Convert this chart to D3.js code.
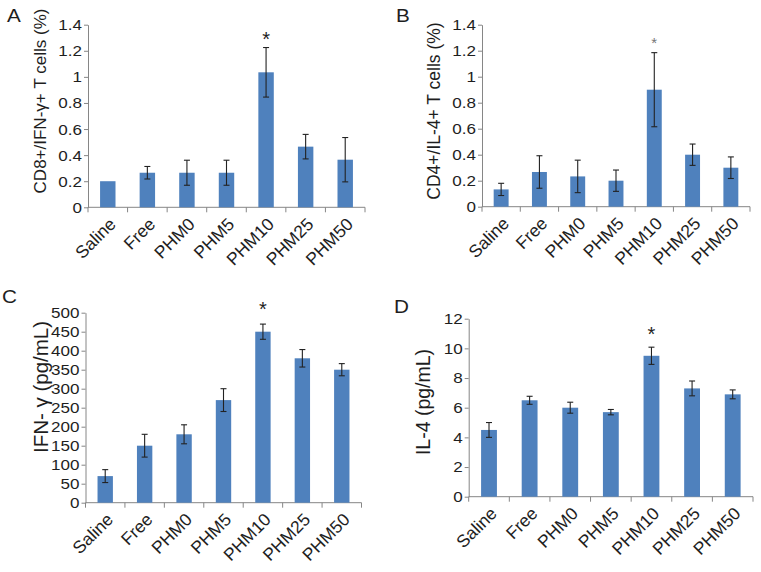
<!DOCTYPE html>
<html>
<head>
<meta charset="utf-8">
<script src="https://cdn.jsdelivr.net/npm/d3@7"></script>
<style>
body { margin: 0; background: #fff; }
svg { display: block; }
text { font-family: "Liberation Sans", Arial, sans-serif; fill: #1e1e1e; }
</style>
</head>
<body>
<svg id="svg" width="761" height="572"></svg>
<script>
var groups = ['Saline', 'Free', 'PHM0', 'PHM5', 'PHM10', 'PHM25', 'PHM50'];

// panel A: CD8+/IFN-y+ T cells (%)
var cd8Mean = [0.20, 0.265, 0.265, 0.265, 1.035, 0.465, 0.365];
var cd8Err  = [0, 0.048, 0.096, 0.096, 0.19, 0.094, 0.17];
// panel B: CD4+/IL-4+ T cells (%)
var cd4Mean = [0.133, 0.267, 0.233, 0.20, 0.90, 0.40, 0.30];
var cd4Err  = [0.047, 0.125, 0.125, 0.082, 0.285, 0.082, 0.083];
// panel C: IFN-y (pg/mL)
var ifnMean = [70, 150, 180, 270, 450, 380, 350];
var ifnErr  = [17, 30, 25, 30, 20, 23, 16];
// panel D: IL-4 (pg/mL)
var il4Mean = [4.5, 6.5, 6.0, 5.7, 9.5, 7.3, 6.9];
var il4Err  = [0.5, 0.27, 0.37, 0.18, 0.58, 0.5, 0.3];

var pctTicks = [0, 0.2, 0.4, 0.6, 0.8, 1, 1.2, 1.4];
var ifnTicks = [0, 50, 100, 150, 200, 250, 300, 350, 400, 450, 500];
var il4Ticks = [0, 2, 4, 6, 8, 10, 12];

var starGroup = 'PHM10';

var panels = [
    {label: 'A', lx: 7, ly: 22, x0: 88, x1: 365, y0: 207.3, y1: 24.7, ticks: pctTicks,
     mean: cd8Mean, err: cd8Err, title: 'CD8+/IFN-\u03b3+ T cells (%)', tx: 46, ty: 101, tsize: 17,
     starSize: 20, starColor: '#1e1e1e', starGap: 11.5},
    {label: 'B', lx: 396, ly: 22, x0: 482, x1: 750, y0: 206.7, y1: 24.7, ticks: pctTicks,
     mean: cd4Mean, err: cd4Err, title: 'CD4+/IL-4+ T cells (%)', tx: 440, ty: 111, tsize: 17.5,
     starSize: 15, starColor: '#777', starGap: 12.7},
    {label: 'C', lx: 2, ly: 303, x0: 85.5, x1: 361.5, y0: 502.7, y1: 312.7, ticks: ifnTicks,
     mean: ifnMean, err: ifnErr, title: 'IFN- \u03b3  (pg/mL)', tx: 48, ty: 387, tsize: 20.5,
     starSize: 20, starColor: '#1e1e1e', starGap: 18.7},
    {label: 'D', lx: 394, ly: 313, x0: 468.7, x1: 753, y0: 496.7, y1: 318.7, ticks: il4Ticks,
     mean: il4Mean, err: il4Err, title: 'IL-4 (pg/mL)', tx: 430, ty: 402, tsize: 19.5,
     starSize: 20, starColor: '#1e1e1e', starGap: 17}
];

var svg = d3.select('svg');
var barColor = '#4f81bd';
var axisColor = '#868686';
var sx = 1.1; // tick labels are drawn a little wide in the source

panels.forEach(function(p) {
    var g = svg.append('g');
    var x = d3.scaleBand()
        .domain(groups)
        .range([p.x0, p.x1])
        .paddingInner(0.61)
        .paddingOuter(0.305);
    var y = d3.scaleLinear()
        .domain([0, p.ticks[p.ticks.length - 1]])
        .range([p.y0, p.y1]);
    var step = x.step();

    // y axis
    var yAxis = g.append('g')
        .attr('transform', 'translate(' + p.x0 + ',0)')
        .call(d3.axisLeft(y).tickValues(p.ticks).tickSize(4).tickSizeOuter(0)
            .tickFormat(function(d) { return String(d); }));
    yAxis.select('.domain').attr('stroke', axisColor);
    yAxis.selectAll('line').attr('stroke', axisColor);
    yAxis.selectAll('text')
        .attr('x', -6 / sx)
        .attr('transform', 'scale(' + sx + ',1)')
        .style('font-size', '15.5px')
        .attr('font-family', null)
        .attr('fill', '#1e1e1e');

    // x axis line with ticks at the band edges
    g.append('line')
        .attr('x1', p.x0).attr('x2', p.x1)
        .attr('y1', y(0)).attr('y2', y(0))
        .attr('stroke', axisColor);
    g.selectAll('.xtick')
        .data(d3.range(groups.length + 1))
        .enter()
        .append('line')
        .attr('x1', function(i) { return p.x0 + i * step; })
        .attr('x2', function(i) { return p.x0 + i * step; })
        .attr('y1', y(0)).attr('y2', y(0) + 5)
        .attr('stroke', axisColor);

    // bars
    g.selectAll('.bar')
        .data(groups)
        .enter()
        .append('rect')
        .attr('x', function(d) { return x(d); })
        .attr('width', x.bandwidth())
        .attr('y', function(d, i) { return y(p.mean[i]); })
        .attr('height', function(d, i) { return y(0) - y(p.mean[i]); })
        .attr('fill', barColor);

    // error bars
    groups.forEach(function(d, i) {
        if (!p.err[i]) return;
        var cx = x(d) + x.bandwidth() / 2;
        var top = y(p.mean[i] + p.err[i]);
        var bot = y(p.mean[i] - p.err[i]);
        g.append('line').attr('x1', cx).attr('x2', cx).attr('y1', top).attr('y2', bot)
            .attr('stroke', '#222').attr('stroke-width', 1.1);
        [top, bot].forEach(function(yy) {
            g.append('line').attr('x1', cx - 3).attr('x2', cx + 3).attr('y1', yy).attr('y2', yy)
                .attr('stroke', '#222').attr('stroke-width', 1.1);
        });
    });

    // category labels
    g.selectAll('.cat')
        .data(groups)
        .enter()
        .append('text')
        .attr('transform', function(d) {
            return 'translate(' + (x(d) + x.bandwidth() / 2 + 9) + ',' + (y(0) + 18) + ') rotate(-45)';
        })
        .attr('text-anchor', 'end')
        .style('font-size', '17.5px')
        .text(function(d) { return d; });

    // y title
    g.append('text')
        .attr('transform', 'translate(' + p.tx + ',' + p.ty + ') rotate(-90)')
        .attr('text-anchor', 'middle')
        .style('font-size', p.tsize + 'px')
        .text(p.title);

    // significance star
    var si = groups.indexOf(starGroup);
    var starCenter = y(p.mean[si] + p.err[si]) - p.starGap;
    g.append('text')
        .attr('x', x(starGroup) + x.bandwidth() / 2)
        .attr('y', starCenter + 0.52 * p.starSize)
        .attr('text-anchor', 'middle')
        .style('font-size', p.starSize + 'px')
        .style('fill', p.starColor)
        .text('*');

    // panel letter
    g.append('text')
        .attr('transform', 'translate(' + p.lx + ',' + p.ly + ') scale(1.15,1)')
        .style('font-size', '18px')
        .text(p.label);
});
</script>
</body>
</html>
